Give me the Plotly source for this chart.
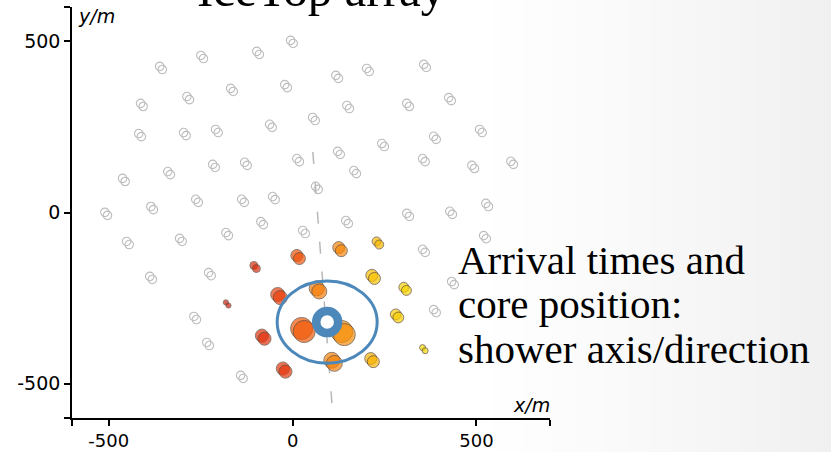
import plotly.graph_objects as go
import numpy as np

# ---------------- data (metres) ----------------
# untriggered IceTop stations
idle_x = [-2, -246, -94, -358, 121, 205, 360, -410, -284, -165, -18, 151, 314, 428,
          -415, -293, -206, -59, 58, 246, 387, 512, -459, -336, -214, -127, 15, 126,
          170, 357, 491, 597, 66, -507, -382, -260, -135, -51, 148, 314, 431, 529,
          -83, -448, -304, -178, 31, 357, 523, -385, -225, 436, -265, 387, -230, -138]
idle_y = [498, 454, 466, 422, 396, 416, 428, 314, 334, 358, 369, 308, 314, 331,
          226, 229, 238, 253, 273, 197, 218, 238, 95, 115, 136, 142, 153, 174,
          118, 153, 133, 145, 72, -4, 13, 34, 34, 42, -28, -7, -1, 22,
          -31, -89, -80, -63, -57, -112, -72, -191, -180, -206, -308, -288, -384, -480]

# triggered stations: position, arrival time (ns), signal (VEM)
hit_x = [15, -102, 129, 232, 219, 306, -37, 69, -178, 284, 28, 137, -80, 110, 216, -23, 357]
hit_y = [-130, -159, -107, -89, -188, -223, -244, -226, -267, -302, -343, -352, -364, -436, -431, -460, -399]
hit_time = [330, 120, 560, 790, 840, 950, 230, 520, 0, 900, 360, 600, 150, 540, 760, 180, 1000]
hit_charge = [16, 7, 16, 9, 16, 11, 22, 25, 3, 13, 54, 54, 19, 28, 16, 19, 4]

# reconstructed core and shower axis projection
core_x = [94]
core_y = [-320]
core_radius_x = 136
core_radius_y = 120
axis_x = [55, 107]
axis_y = [177, -559]

x_tickvals = [-600, -500, 0, 500, 700]
x_ticktext = ["", "-500", "0", "500", ""]
y_tickvals = [-600, -500, 0, 500, 600]
y_ticktext = ["", "-500", "0", "500", ""]

# tank offset inside a station (m)
tank_dx, tank_dy = 7, -9

fig = go.Figure()

W, H = 831, 452
L, R, T, B = 72, 281, 7, 34
pw, ph = W - L - R, H - T - B
def px2paper_x(p):
    return (p - L) / pw
def px2paper_y(p):
    return (H - B - p) / ph

# slide background gradient
n = 48
x_start = 470
for k in range(n):
    a = x_start + (W - x_start) * k / n
    b = x_start + (W - x_start) * (k + 1) / n
    f = ((k + 0.5) / n) ** 1.2
    c = int(round(255 - f * 15))
    fig.add_shape(type="rect", xref="paper", yref="paper",
                  x0=px2paper_x(a), x1=px2paper_x(b) + 0.003,
                  y0=px2paper_y(H + 5), y1=px2paper_y(-5),
                  fillcolor=f"rgb({c},{c},{c})", line=dict(width=0), layer="below")

# shower axis projection
fig.add_trace(go.Scatter(x=axis_x, y=axis_y, mode="lines",
                         line=dict(color="#b8b8b8", width=1.5, dash="12px,18px"),
                         hoverinfo="skip", showlegend=False))

ix = np.array(idle_x, float)
iy = np.array(idle_y, float)
for sgn in (-1, 1):
    fig.add_trace(go.Scatter(x=ix + sgn * tank_dx / 2, y=iy + sgn * tank_dy / 2, mode="markers",
                             marker=dict(size=8.5, color="rgba(255,255,255,0)",
                                         line=dict(color="#bcbcbc", width=1.1)),
                             showlegend=False))

hx = np.array(hit_x, float)
hy = np.array(hit_y, float)
sizes = 3.0 * np.sqrt(np.array(hit_charge, float))
cs = [[0, "#cf1d0e"], [0.2, "#e83a0c"], [0.4, "#f5620a"], [0.6, "#f8900a"],
      [0.8, "#f8bc02"], [1, "#f8dc00"]]
for sgn in (-1, 1):
    fig.add_trace(go.Scatter(x=hx + sgn * tank_dx / 2, y=hy + sgn * tank_dy / 2, mode="markers",
                             marker=dict(size=sizes, color=hit_time, colorscale=cs,
                                         cmin=0, cmax=1000,
                                         line=dict(color="#5a4535", width=1)),
                             showlegend=False))

# core uncertainty ellipse
fig.add_shape(type="circle", xref="x", yref="y",
              x0=core_x[0] - core_radius_x, x1=core_x[0] + core_radius_x,
              y0=core_y[0] - core_radius_y, y1=core_y[0] + core_radius_y,
              line=dict(color="#4d88bb", width=3))

fig.add_trace(go.Scatter(x=core_x, y=core_y, mode="markers",
                         marker=dict(size=22, color="white",
                                     line=dict(color="#4d88bb", width=8.5)),
                         showlegend=False))

axis_common = dict(showgrid=False, zeroline=False, showline=True, linecolor="black",
                   linewidth=1.6, ticks="outside", ticklen=6, tickwidth=1.6, automargin=False,
                   tickcolor="black")

fig.update_layout(
    width=W, height=H,
    margin=dict(l=L, r=R, t=T, b=B, autoexpand=False),
    paper_bgcolor="rgba(0,0,0,0)", plot_bgcolor="rgba(0,0,0,0)",
    xaxis=dict(range=[-600, 700], tickvals=x_tickvals, ticktext=x_ticktext,
               tickfont=dict(family="DejaVu Sans", size=18, color="black"), **axis_common),
    yaxis=dict(range=[-600, 600], tickvals=y_tickvals, ticktext=y_ticktext,
               tickfont=dict(family="DejaVu Sans", size=19, color="black"), **axis_common),
    showlegend=False,
)

serif = "Liberation Serif"
annots = [
    dict(text="<i>y/m</i>", x=px2paper_x(76), y=px2paper_y(16), xanchor="left", yanchor="middle",
         font=dict(family="DejaVu Sans", size=19, color="black")),
    dict(text="<i>x/m</i>", x=px2paper_x(552), y=px2paper_y(405), xanchor="right", yanchor="middle",
         font=dict(family="DejaVu Sans", size=19, color="black")),
    dict(text="IceTop array", x=px2paper_x(195), y=px2paper_y(-10), xanchor="left", yanchor="middle",
         font=dict(family=serif, size=49, color="black")),
    dict(text="Arrival times and", x=px2paper_x(456), y=px2paper_y(260), xanchor="left", yanchor="middle",
         font=dict(family=serif, size=41, color="black")),
    dict(text="core position:", x=px2paper_x(456), y=px2paper_y(304), xanchor="left", yanchor="middle",
         font=dict(family=serif, size=41, color="black")),
    dict(text="shower axis/direction", x=px2paper_x(456), y=px2paper_y(349), xanchor="left", yanchor="middle",
         font=dict(family=serif, size=41, color="black")),
]
for a in annots:
    fig.add_annotation(xref="paper", yref="paper", showarrow=False, **a)

fig.write_html("out.html")
